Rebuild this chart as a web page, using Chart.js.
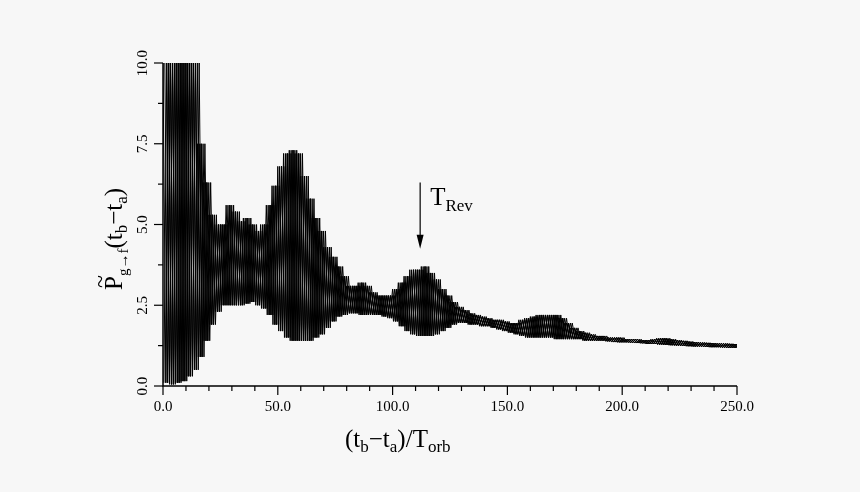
<!DOCTYPE html>
<html><head><meta charset="utf-8">
<script src="https://cdn.jsdelivr.net/npm/chart.js@4"></script>
<style>html,body{margin:0;background:#f7f7f7}#w{width:860px;height:492px}</style>
</head><body><div id="w"><canvas id="c"></canvas></div>
<script>
const step = 2.5;
const upperEnv = [10,10,10,10,10,10,7.5,6.3,5.3,5.0,5.0,5.6,5.4,5.1,5.2,5.0,4.8,5.0,5.6,6.2,6.8,7.2,7.3,7.2,6.5,5.8,5.2,4.8,4.3,4.0,3.7,3.4,3.1,3.1,3.2,3.1,2.9,2.8,2.8,2.8,3.0,3.2,3.4,3.6,3.6,3.7,3.5,3.3,3.0,2.8,2.6,2.45,2.35,2.25,2.2,2.15,2.1,2.05,2.05,2.0,1.95,1.95,2.05,2.1,2.15,2.2,2.2,2.2,2.2,2.1,1.95,1.8,1.7,1.65,1.6,1.55,1.55,1.5,1.5,1.5,1.45,
1.45,1.45,1.42,1.42,1.45,1.48,1.48,1.45,1.42,1.4,1.38,1.36,1.35,1.34,1.33,1.32,1.32,1.31,1.3,1.3];
const lowerEnv = [0.1,0.05,0.1,0.15,0.3,0.5,0.9,1.4,1.9,2.3,2.5,2.5,2.5,2.5,2.55,2.6,2.5,2.4,2.2,1.9,1.7,1.5,1.4,1.4,1.4,1.4,1.5,1.6,1.8,2.0,2.15,2.2,2.25,2.25,2.2,2.2,2.2,2.2,2.15,2.1,2.0,1.85,1.7,1.6,1.55,1.55,1.55,1.6,1.7,1.8,1.9,1.95,1.95,1.9,1.9,1.85,1.85,1.8,1.75,1.7,1.65,1.6,1.55,1.5,1.5,1.5,1.5,1.5,1.45,1.45,1.45,1.45,1.45,1.4,1.4,1.4,1.4,1.38,1.36,1.35,1.35,
1.34,1.33,1.32,1.3,1.3,1.28,1.27,1.26,1.25,1.24,1.23,1.22,1.22,1.21,1.2,1.2,1.19,1.18,1.18,1.17];
const xTicks = [0,50,100,150,200,250];
const yTicks = [0,2.5,5,7.5,10];
const arrowX = 112, arrowFrom = 6.3, arrowTo = 4.25;

const offsets = [0, 0.4, 0.8, 1.2, 1.6, 2.0];
const datasets = offsets.map((o, k) => {
  const d = [];
  for (let i = 0; i < upperEnv.length; i++) {
    const a = k % 2 ? lowerEnv[i] : upperEnv[i], b = k % 2 ? upperEnv[i] : lowerEnv[i];
    d.push({x: i*step + o, y: a});
    d.push({x: i*step + o + step/2, y: b});
  }
  return { data: d, borderColor: '#000', borderWidth: 1, pointRadius: 0, tension: 0 };
});

const deco = {
  id: 'deco',
  afterDraw(ch) {
    const c = ch.ctx, xs = ch.scales.x, ys = ch.scales.y, a = ch.chartArea;
    c.save();
    c.strokeStyle = '#000'; c.fillStyle = '#000'; c.lineWidth = 1.5;
    c.beginPath(); c.moveTo(a.left, a.top); c.lineTo(a.left, a.bottom); c.lineTo(a.right, a.bottom); c.stroke();
    c.lineWidth = 1.2;
    for (let v = 0; v <= 250; v += 10) {
      const px = xs.getPixelForValue(v), L = v % 50 === 0 ? 9 : 5;
      c.beginPath(); c.moveTo(px, a.bottom); c.lineTo(px, a.bottom + L); c.stroke();
    }
    for (let v = 0; v <= 10; v += 1.25) {
      const py = ys.getPixelForValue(v), L = (v % 2.5 === 0) ? 9 : 5;
      c.beginPath(); c.moveTo(a.left, py); c.lineTo(a.left - L, py); c.stroke();
    }
    c.font = '15px "Liberation Serif"';
    c.textAlign = 'center'; c.textBaseline = 'top';
    xTicks.forEach(v => c.fillText(v.toFixed(1), xs.getPixelForValue(v), a.bottom + 14));
    yTicks.forEach(v => {
      c.save(); c.translate(a.left - 12, ys.getPixelForValue(v)); c.rotate(-Math.PI/2);
      c.textBaseline = 'bottom'; c.fillText(v.toFixed(1), 0, 0); c.restore();
    });
    let yb = 447;
    const seg = (t, size, dy, x) => { c.font = size + 'px "Liberation Serif"'; c.textAlign='left'; c.textBaseline='alphabetic'; c.fillText(t, x, yb + dy); return x + c.measureText(t).width; };
    let x = seg('(t', 25, 0, 345); x = seg('b', 17, 5, x); x = seg('\u2212t', 25, 0, x); x = seg('a', 17, 5, x);
    x = seg(')/T', 25, 0, x); x = seg('orb', 17, 5, x);
    c.save(); c.translate(122, 290); c.rotate(-Math.PI/2); yb = 0;
    x = seg('P', 25, 0, 0); c.font='24px "Liberation Serif"'; c.fillText('~', 2, -14);
    x = seg('g\u2192f', 15, 6, x); x = seg('(t', 25, 0, x); x = seg('b', 17, 5, x); x = seg('\u2212t', 25, 0, x); x = seg('a', 17, 5, x); seg(')', 25, 0, x);
    c.restore();
    const ax = xs.getPixelForValue(arrowX), y1 = ys.getPixelForValue(arrowFrom), y2 = ys.getPixelForValue(arrowTo);
    c.lineWidth = 1.2; c.beginPath(); c.moveTo(ax, y1); c.lineTo(ax, y2 - 8); c.stroke();
    c.beginPath(); c.moveTo(ax - 3.5, y2 - 14); c.lineTo(ax + 3.5, y2 - 14); c.lineTo(ax, y2); c.closePath(); c.fill();
    yb = 205; x = seg('T', 25, 0, ax + 10); seg('Rev', 17, 6, x);
    c.restore();
  }
};

new Chart(document.getElementById('c'), {
  type: 'line',
  data: { datasets },
  options: {
    responsive: true, maintainAspectRatio: false, animation: false,
    layout: { padding: { left: 163, right: 123, top: 63, bottom: 106 } },
    plugins: { legend: { display: false }, tooltip: { enabled: false } },
    scales: {
      x: { type: 'linear', min: 0, max: 250, display: false },
      y: { min: 0, max: 10, display: false }
    }
  },
  plugins: [deco]
});
</script></body></html>
